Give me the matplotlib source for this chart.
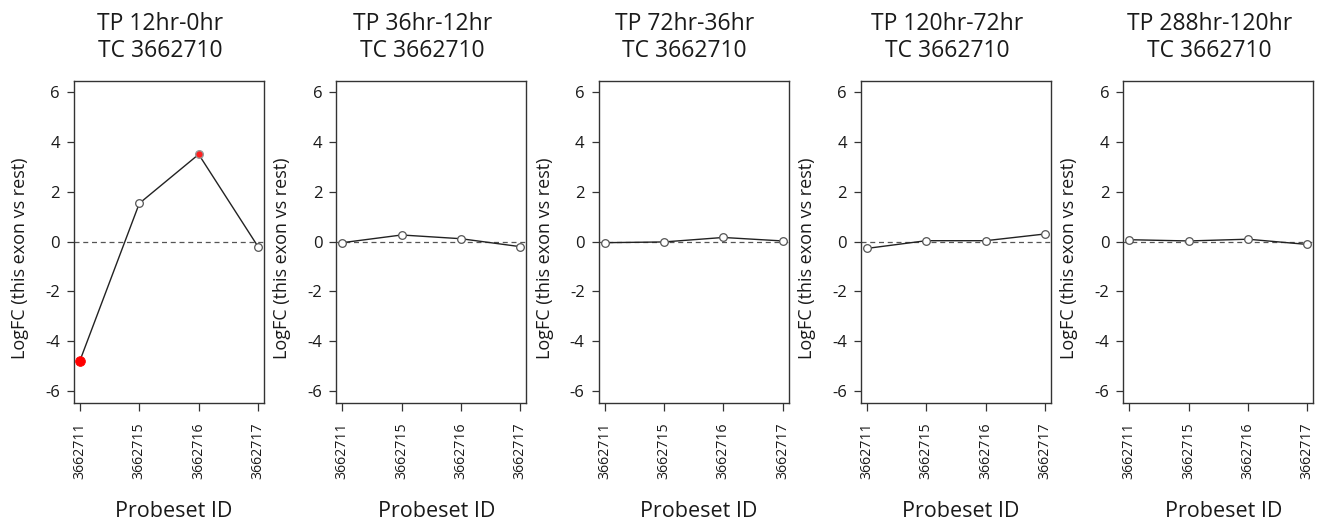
import matplotlib
matplotlib.use("Agg")
import matplotlib.pyplot as plt

W, H = 1319, 521
plt.rcParams['font.family'] = ['Open Sans', 'DejaVu Sans']

# ---- data ----
probesets = ["3662711", "3662715", "3662716", "3662717"]
time_points = ["12hr-0hr", "36hr-12hr", "72hr-36hr", "120hr-72hr", "288hr-120hr"]
transcript = "3662710"
logfc_12_0 = [-4.78, 1.54, 3.51, -0.20]
logfc_36_12 = [-0.04, 0.27, 0.12, -0.20]
logfc_72_36 = [-0.04, -0.01, 0.17, 0.03]
logfc_120_72 = [-0.27, 0.04, 0.04, 0.31]
logfc_288_120 = [0.08, 0.03, 0.10, -0.11]
# 2 = strongly significant (solid red), 1 = significant (red centre), 0 = none
sig_12_0 = [2, 0, 1, 0]
sig_36_12 = [0, 0, 0, 0]
sig_72_36 = [0, 0, 0, 0]
sig_120_72 = [0, 0, 0, 0]
sig_288_120 = [0, 0, 0, 0]
y_ticks = [-6, -4, -2, 0, 2, 4, 6]

series = [logfc_12_0, logfc_36_12, logfc_72_36, logfc_120_72, logfc_288_120]
sigs = [sig_12_0, sig_36_12, sig_72_36, sig_120_72, sig_288_120]

fig = plt.figure(figsize=(W / 100, H / 100), dpi=100)

left0, step, width = 74, 262.3, 190
top_px, bot_px = 80.7, 402.7
TXT = "#1a1a1a"

def fx(px):
    return px / W

def fy(py):
    return 1 - py / H

for i, (tp, vals, sig) in enumerate(zip(time_points, series, sigs)):
    lpx = left0 + i * step
    ax = fig.add_axes([fx(lpx), fy(bot_px), width / W, (bot_px - top_px) / H])
    x = list(range(1, len(probesets) + 1))
    ax.axhline(0, color="#555555", lw=0.9, ls=(0, (4, 3)), zorder=1)
    ax.plot(x, vals, color="#222222", lw=1.0, zorder=2)
    for xi, v, s in zip(x, vals, sig):
        if s == 2:
            ax.plot(xi, v, marker="o", ms=7, mfc="#ff0000", mec="#ff0000", mew=0.6, zorder=3)
        elif s == 1:
            ax.plot(xi, v, marker="o", ms=5.5, mfc="#ff2020", mec="#999999", mew=1.0, zorder=3)
        else:
            ax.plot(xi, v, marker="o", ms=5.5, mfc="white", mec="#555555", mew=0.9, zorder=3)
    ax.set_xlim(0.9, 4.1)
    ax.set_ylim(-6.47, 6.47)
    ax.set_yticks(y_ticks)
    ax.set_yticklabels([str(t) for t in y_ticks])
    ax.set_xticks(x)
    ax.set_xticklabels(probesets, rotation=90)
    ax.tick_params(axis="y", length=5, width=0.9, pad=5, labelsize=12, colors="#333333", labelcolor=TXT)
    ax.tick_params(axis="x", length=5.5, width=0.9, pad=9, labelsize=10.2, colors="#333333", labelcolor=TXT)
    for sp in ax.spines.values():
        sp.set_color("#333333")
        sp.set_linewidth(1.0)
    cx = lpx + width / 2
    fig.text(fx(cx - 9), fy(30), f"TP {tp}", ha="center", va="baseline", fontsize=16.5, color=TXT)
    fig.text(fx(cx - 9), fy(57), f"TC {transcript}", ha="center", va="baseline", fontsize=16.5, color=TXT)
    fig.text(fx(cx + 5), fy(517), "Probeset ID", ha="center", va="baseline", fontsize=15.5, color=TXT)
    fig.text(fx(lpx - 54), fy(258), "LogFC (this exon vs rest)", ha="center", va="center",
             rotation=90, fontsize=13, color=TXT)

fig.savefig("out.png", dpi=100)
